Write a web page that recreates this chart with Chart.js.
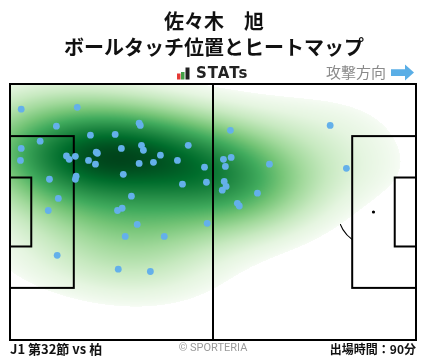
<!DOCTYPE html>
<html><head><meta charset="utf-8">
<script src="https://cdn.jsdelivr.net/npm/chart.js@4.4.0/dist/chart.umd.min.js"></script>
<style>html,body{margin:0;padding:0;background:#fff}#wrap{width:428px;height:359px}</style>
</head><body><div id="wrap"><canvas id="c" width="428" height="359"></canvas></div>
<script>
// ---- texts ----
const playerName = '佐々木　旭';
const chartTitle = 'ボールタッチ位置とヒートマップ';
const brandLabel = 'STATs';
const directionLabel = '攻撃方向';
const matchLabel = 'J1 第32節 vs 柏';
const creditLabel = '© SPORTERIA';
const minutesLabel = '出場時間：90分';

// ---- pitch (metres) ----
const fieldLength = 105;
const fieldWidth = 68;

// ---- ball touches: x = metres from own goal line, y = metres from top touchline ----
const touchX = [2.9,17.4,12.0,33.4,33.7,20.8,27.2,7.8,2.9,2.7,34.0,34.5,28.8,46.1,14.6,15.3,16.9,22.3,22.6,20.3,22.1,33.4,37.1,38.9,43.3,50.3,29.3,17.1,16.9,10.2,44.6,50.8,31.4,12.5,9.9,27.8,29.0,32.9,29.8,39.9,51.0,12.2,28.0,36.3,57.0,82.8,55.2,57.2,55.7,67.1,87.0,55.4,55.9,54.9,64.0,58.8,59.3];
const touchY = [6.7,6.2,11.2,10.4,11.0,13.6,13.4,15.2,17.1,20.3,16.3,17.6,17.1,16.3,19.1,20.0,19.2,18.1,18.4,20.3,21.3,21.1,20.8,18.9,20.3,22.1,24.0,24.5,25.3,25.3,26.6,26.1,29.8,30.4,33.6,33.6,33.0,37.3,40.5,40.5,37.0,45.5,49.2,49.8,12.3,11.0,20.0,19.5,21.9,21.3,22.4,25.9,27.2,28.2,29.0,31.7,32.4];

const greens = [[247,252,245],[229,245,224],[199,233,192],[161,217,155],[116,196,118],[65,171,93],[35,139,69],[0,109,44],[0,68,27]];
function greenAt(t){
  t = Math.max(0, Math.min(1, t));
  const f = t * (greens.length - 1), i = Math.min(greens.length - 2, Math.floor(f)), u = f - i;
  return greens[i].map((c, k) => Math.round(c + (greens[i + 1][k] - c) * u));
}

function kdeSetup(bwAdjust){
  const n = touchX.length;
  const mx = touchX.reduce((a, b) => a + b, 0) / n, my = touchY.reduce((a, b) => a + b, 0) / n;
  let sxx = 0, syy = 0, sxy = 0;
  for (let i = 0; i < n; i++){ const dx = touchX[i] - mx, dy = touchY[i] - my; sxx += dx*dx; syy += dy*dy; sxy += dx*dy; }
  sxx /= (n - 1); syy /= (n - 1); sxy /= (n - 1);
  const f2 = Math.pow(n, -1/3) * bwAdjust * bwAdjust;
  const a = sxx * f2, b = sxy * f2, d = syy * f2;
  const det = a * d - b * b;
  return { ia: d / det, ib: -b / det, id: a / det };
}

const pitchPlugin = {
  id: 'pitch',
  beforeDatasetsDraw(chart){
    const {ctx, chartArea: A, scales: {x, y}} = chart;
    const px = v => x.getPixelForValue(v), py = v => y.getPixelForValue(v);
    ctx.save();
    // markings under heatmap
    ctx.strokeStyle = '#000'; ctx.lineWidth = 1.2;
    const rx = px(9.15) - px(0), ry = py(9.15) - py(0);
    [[11, 1], [fieldLength - 11, -1]].forEach(([sx, dir]) => {
      ctx.beginPath();
      if (dir === 1) ctx.ellipse(px(sx), py(fieldWidth/2), rx, ry, 0, -0.93, 0.93);
      else ctx.ellipse(px(sx), py(fieldWidth/2), rx, ry, 0, Math.PI - 0.93, Math.PI + 0.93);
      ctx.stroke();
      ctx.beginPath(); ctx.arc(px(sx), py(fieldWidth/2), 1.6, 0, Math.PI*2); ctx.fillStyle = '#000'; ctx.fill();
    });
    ctx.beginPath(); ctx.ellipse(px(fieldLength/2), py(fieldWidth/2), rx, ry, 0, 0, Math.PI*2); ctx.stroke();

    // heatmap (gaussian KDE of touches)
    const W = Math.round(A.right - A.left), H = Math.round(A.bottom - A.top);
    const off = document.createElement('canvas'); off.width = W; off.height = H;
    const octx = off.getContext('2d'); const img = octx.createImageData(W, H);
    const k = kdeSetup(1.4); const n = touchX.length;
    const dens = new Float32Array(W * H); let maxD = 0;
    for (let j = 0; j < H; j++){
      const vy = y.getValueForPixel(A.top + j + 0.5);
      for (let i = 0; i < W; i++){
        const vx = x.getValueForPixel(A.left + i + 0.5);
        let s = 0;
        for (let p = 0; p < n; p++){
          const dx = vx - touchX[p], dy = vy - touchY[p];
          s += Math.exp(-0.5 * (k.ia*dx*dx + 2*k.ib*dx*dy + k.id*dy*dy));
        }
        dens[j*W + i] = s; if (s > maxD) maxD = s;
      }
    }
    const thr = 0.045;
    for (let q = 0; q < W * H; q++){
      const t = dens[q] / maxD;
      if (t < thr) continue;
      const c = greenAt(Math.pow((t - thr) / (1 - thr), 0.7));
      img.data[q*4] = c[0]; img.data[q*4+1] = c[1]; img.data[q*4+2] = c[2]; img.data[q*4+3] = 255;
    }
    octx.putImageData(img, 0, 0);
    ctx.drawImage(off, A.left, A.top);

    // markings over heatmap
    ctx.strokeStyle = '#000'; ctx.lineWidth = 2;
    const box = (x0, x1, halfW) => { ctx.strokeRect(px(x0), py(fieldWidth/2 - halfW), px(x1) - px(x0), py(fieldWidth/2 + halfW) - py(fieldWidth/2 - halfW)); };
    box(0, 16.5, 20.16); box(0, 5.5, 9.16);
    box(fieldLength - 16.5, fieldLength, 20.16); box(fieldLength - 5.5, fieldLength, 9.16);
    ctx.beginPath(); ctx.moveTo(px(fieldLength/2), py(0)); ctx.lineTo(px(fieldLength/2), py(fieldWidth)); ctx.stroke();
    ctx.strokeRect(px(0), py(0), px(fieldLength) - px(0), py(fieldWidth) - py(0));
    ctx.restore();
  },
  afterDraw(chart){
    const ctx = chart.ctx;
    ctx.save();
    ctx.fillStyle = '#111'; ctx.textAlign = 'center'; ctx.textBaseline = 'middle';
    ctx.font = 'bold 20px "Noto Sans CJK JP"';
    ctx.fillText(playerName, 214, 21);
    ctx.fillText(chartTitle, 214, 47);
    // brand mark
    ctx.fillStyle = '#e53935'; ctx.fillRect(177, 73.5, 3.5, 6);
    ctx.fillStyle = '#43a047'; ctx.fillRect(181, 72, 3.5, 7.5);
    ctx.fillStyle = '#222'; ctx.fillRect(185.5, 67.5, 4, 12);
    ctx.font = 'bold 15px "DejaVu Sans"'; ctx.textAlign = 'left'; ctx.fillStyle = '#222';
    ctx.letterSpacing = '1px';
    ctx.fillText(brandLabel, 196, 74);
    ctx.letterSpacing = '0px';
    ctx.font = '15px "Noto Sans CJK JP"'; ctx.fillStyle = '#8a8a8a';
    ctx.fillText(directionLabel, 326, 72);
    // arrow
    ctx.fillStyle = '#5aaee6';
    ctx.beginPath();
    ctx.moveTo(391, 69.3); ctx.lineTo(405, 69.3); ctx.lineTo(405, 64.5); ctx.lineTo(414, 72.5);
    ctx.lineTo(405, 80.5); ctx.lineTo(405, 76); ctx.lineTo(391, 76); ctx.closePath(); ctx.fill();
    // footer
    ctx.textBaseline = 'middle';
    ctx.font = 'bold 13px "Noto Sans CJK JP"'; ctx.fillStyle = '#111'; ctx.textAlign = 'left';
    ctx.fillText(matchLabel, 10, 349);
    ctx.font = 'bold 12px "Noto Sans CJK JP"'; ctx.textAlign = 'right';
    ctx.fillText(minutesLabel, 416, 349);
    ctx.font = '11px Roboto'; ctx.fillStyle = '#9a9a9a'; ctx.textAlign = 'center';
    ctx.fillText(creditLabel, 213, 348);
    ctx.restore();
  }
};

new Chart(document.getElementById('c'), {
  type: 'scatter',
  data: { datasets: [{
    data: touchX.map((v, i) => ({x: v, y: touchY[i]})),
    pointRadius: 3.4, pointHoverRadius: 3.4, backgroundColor: '#64b0ea', borderWidth: 0
  }]},
  options: {
    responsive: false, animation: false, devicePixelRatio: 1,
    layout: { padding: { left: 10, right: 12, top: 84, bottom: 19 } },
    scales: {
      x: { type: 'linear', min: 0, max: fieldLength, display: false },
      y: { type: 'linear', min: 0, max: fieldWidth, reverse: true, display: false }
    },
    plugins: { legend: { display: false }, tooltip: { enabled: false } }
  },
  plugins: [pitchPlugin]
});
</script></body></html>
